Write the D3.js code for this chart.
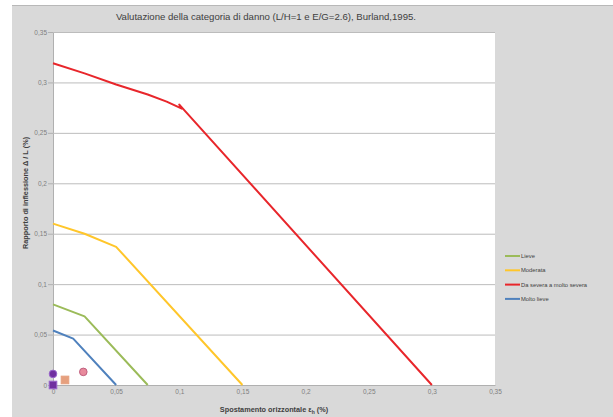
<!DOCTYPE html>
<html>
<head>
<meta charset="utf-8">
<script src="https://cdn.jsdelivr.net/npm/d3@7"></script>
<style>
body { margin: 0; background: #fff; }
svg { display: block; font-family: "Liberation Sans", Arial, sans-serif; }
</style>
</head>
<body>
<script>
// curve di danno (x = spostamento orizzontale, y = rapporto di inflessione)
var lieve = [[0, 0.080], [0.025, 0.068], [0.075, 0]];
var moderata = [[0, 0.160], [0.025, 0.150], [0.05, 0.137], [0.15, 0]];
var severa = [[0, 0.319], [0.025, 0.309], [0.05, 0.298], [0.075, 0.288], [0.09, 0.281], [0.102, 0.274], [0.1, 0.278], [0.3, 0]];
var moltoLieve = [[0, 0.054], [0.016, 0.046], [0.05, 0]];

// punti misurati
var punti = [
  {x: 0, y: 0.011, forma: "cerchio", colore: "#7030a0", bordo: "#9966cc"},
  {x: 0, y: 0.000, forma: "quadrato", colore: "#7030a0", bordo: "#9966cc"},
  {x: 0.0095, y: 0.005, forma: "quadrato", colore: "#e6a07e", bordo: "#e6a07e"},
  {x: 0.024, y: 0.013, forma: "cerchio", colore: "#e88a9c", bordo: "#c06080"}
];

var xTicks = [0, 0.05, 0.1, 0.15, 0.2, 0.25, 0.3, 0.35];
var yTicks = [0, 0.05, 0.1, 0.15, 0.2, 0.25, 0.3, 0.35];

var serie = [
  {nome: "Lieve", dati: lieve, colore: "#9bbb59"},
  {nome: "Moderata", dati: moderata, colore: "#ffc62a"},
  {nome: "Da severa a molto severa", dati: severa, colore: "#e8262b"},
  {nome: "Molto lieve", dati: moltoLieve, colore: "#4f81bd"}
];

var W = 613, H = 417;
var svg = d3.select("body").append("svg").attr("width", W).attr("height", H);

// sfondo grigio del grafico
svg.append("rect").attr("x", 12).attr("y", 5).attr("width", W - 12).attr("height", H - 5)
  .attr("fill", "#d9d9d9");
svg.append("line").attr("x1", 12).attr("x2", W).attr("y1", 5.5).attr("y2", 5.5)
  .attr("stroke", "#b8b8b8");

var x = d3.scaleLinear().domain([0, 0.35]).range([53, 495]);
var y = d3.scaleLinear().domain([0, 0.35]).range([385, 32]);

svg.append("rect").attr("x", x(0)).attr("y", y(0.35)).attr("width", x(0.35) - x(0))
  .attr("height", y(0) - y(0.35)).attr("fill", "#fff");

var fmt = function(d) { return String(d).replace(".", ","); };

// griglia + asse y
var gy = svg.append("g").attr("transform", "translate(" + x(0) + ",0)")
  .call(d3.axisLeft(y).tickValues(yTicks).tickSize(5).tickFormat(fmt));
gy.select(".domain").attr("stroke", "#b0b0b0");
gy.selectAll(".tick line").attr("stroke", "#b0b0b0");
gy.selectAll(".tick text").attr("fill", "#7f7f7f").attr("font-size", 6.5).attr("x", -6);
gy.selectAll(".tick").append("line").attr("x1", 0).attr("x2", x(0.35) - x(0))
  .attr("stroke", "#bcbcbc");

var gx = svg.append("g").attr("transform", "translate(0," + y(0) + ")")
  .call(d3.axisBottom(x).tickValues(xTicks).tickSize(0).tickFormat(fmt));
gx.select(".domain").attr("stroke", "#b0b0b0");
gx.selectAll(".tick text").attr("fill", "#7f7f7f").attr("font-size", 6.5).attr("dy", "0.9em");

// curve
var linea = d3.line().x(function(d) { return x(d[0]); }).y(function(d) { return y(d[1]); });
svg.selectAll("path.serie").data(serie).enter().append("path")
  .attr("class", "serie")
  .attr("d", function(d) { return linea(d.dati); })
  .attr("fill", "none")
  .attr("stroke", function(d) { return d.colore; })
  .attr("stroke-width", 2)
  .attr("stroke-linejoin", "round");

// punti
punti.forEach(function(p) {
  if (p.forma == "cerchio") {
    svg.append("circle").attr("cx", x(p.x)).attr("cy", y(p.y)).attr("r", 3.8)
      .attr("fill", p.colore).attr("stroke", p.bordo).attr("stroke-width", 1);
  } else {
    svg.append("rect").attr("x", x(p.x) - 3.8).attr("y", y(p.y) - 3.8)
      .attr("width", 7.6).attr("height", 7.6)
      .attr("fill", p.colore).attr("stroke", p.bordo).attr("stroke-width", 1);
  }
});

// titolo
svg.append("text").attr("x", 266).attr("y", 20).attr("text-anchor", "middle")
  .attr("font-size", 9.6).attr("fill", "#404040")
  .text("Valutazione della categoria di danno (L/H=1 e E/G=2.6), Burland,1995.");

// titoli assi
svg.append("text").attr("transform", "translate(28,193) rotate(-90)")
  .attr("text-anchor", "middle").attr("font-size", 7.3).attr("font-weight", "bold")
  .attr("fill", "#404040").text("Rapporto di inflessione Δ / L (%)");

var tx = svg.append("text").attr("x", 274).attr("y", 412).attr("text-anchor", "middle")
  .attr("font-size", 7.3).attr("font-weight", "bold").attr("fill", "#404040");
tx.append("tspan").text("Spostamento orizzontale ε");
tx.append("tspan").attr("font-size", 5).attr("dy", 1.5).text("h");
tx.append("tspan").attr("dy", -1.5).text(" (%)");

// legenda
var leg = svg.selectAll("g.leg").data(serie).enter().append("g")
  .attr("class", "leg")
  .attr("transform", function(d, i) { return "translate(505," + (256 + i * 14.3) + ")"; });
leg.append("line").attr("x1", 0).attr("x2", 15)
  .attr("stroke", function(d) { return d.colore; }).attr("stroke-width", 2);
leg.append("text").attr("x", 16).attr("dy", "0.35em").attr("font-size", 5.8)
  .attr("fill", "#404040").text(function(d) { return d.nome; });
</script>
</body>
</html>
